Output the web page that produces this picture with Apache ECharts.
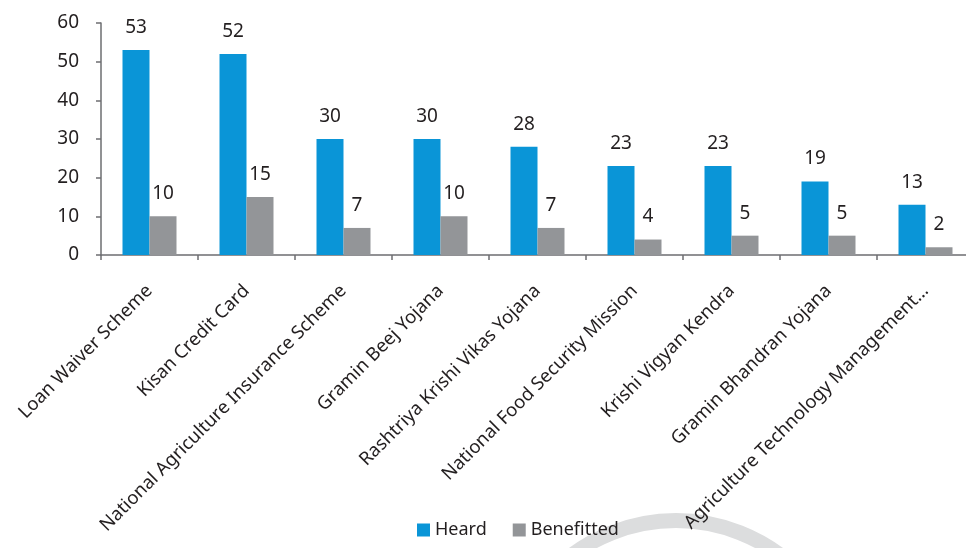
<!DOCTYPE html>
<html>
<head>
<meta charset="utf-8">
<script src="https://cdn.jsdelivr.net/npm/echarts@6/dist/echarts.min.js"></script>
<style>
  html, body { margin: 0; padding: 0; background: #ffffff; overflow: hidden; }
  /* the plot runs slightly past the right edge of the 966px view */
  #chart { width: 974px; height: 548px; }
</style>
</head>
<body>
<div id="chart"></div>
<script>
// Government schemes: how many respondents heard of each, and how many benefitted
const schemes = [
  'Loan Waiver Scheme',
  'Kisan Credit Card',
  'National Agriculture Insurance Scheme',
  'Gramin Beej Yojana',
  'Rashtriya Krishi Vikas Yojana',
  'National Food Security Mission',
  'Krishi Vigyan Kendra',
  'Gramin Bhandran Yojana',
  'Agriculture Technology Management…'
];
const heard = [53, 52, 30, 30, 28, 23, 23, 19, 13];
const benefitted = [10, 15, 7, 10, 7, 4, 5, 5, 2];
const yTicks = { min: 0, max: 60, interval: 10 };

const FONT = '"Noto Sans", "Open Sans", sans-serif';
const TEXT = '#231f20';
const AXIS = '#6d6e71';

const chart = echarts.init(document.getElementById('chart'), null, { renderer: 'canvas' });

const valueLabel = {
  show: true,
  position: 'top',
  distance: 13,
  color: TEXT,
  fontSize: 19,
  fontFamily: FONT
};

chart.setOption({
  animation: false,
  backgroundColor: '#ffffff',
  textStyle: { fontFamily: FONT, color: TEXT },
  grid: { left: 101, right: 0, top: 23, bottom: 293, containLabel: false },
  legend: {
    bottom: 4,
    left: 412,
    itemWidth: 13,
    itemHeight: 13,
    itemGap: 26,
    icon: 'rect',
    textStyle: { fontSize: 18, color: TEXT, fontFamily: FONT },
    data: ['Heard', 'Benefitted']
  },
  xAxis: {
    type: 'category',
    data: schemes,
    axisLine: { show: true, lineStyle: { color: AXIS, width: 1.5 } },
    axisTick: { show: true, length: 5, alignWithLabel: false, lineStyle: { color: AXIS, width: 1.5 } },
    axisLabel: {
      interval: 0,
      rotate: 45,
      margin: 33,
      fontSize: 18.5,
      color: TEXT,
      fontFamily: FONT
    }
  },
  yAxis: {
    type: 'value',
    min: yTicks.min,
    max: yTicks.max,
    interval: yTicks.interval,
    splitLine: { show: false },
    axisLine: { show: true, lineStyle: { color: AXIS, width: 1.5 } },
    axisTick: { show: true, length: 5, lineStyle: { color: AXIS, width: 1.5 } },
    axisLabel: { fontSize: 19, color: TEXT, margin: 22, fontFamily: FONT }
  },
  series: [
    {
      name: 'Heard',
      type: 'bar',
      data: heard,
      barWidth: 27,
      barGap: '0%',
      itemStyle: { color: '#0a95d7' },
      label: valueLabel
    },
    {
      name: 'Benefitted',
      type: 'bar',
      data: benefitted,
      barWidth: 27,
      barGap: '0%',
      itemStyle: { color: '#939598' },
      label: valueLabel
    }
  ],
  graphic: [
    {
      type: 'circle',
      z: -10,
      silent: true,
      shape: { cx: 676, cy: 694, r: 173.5 },
      style: { fill: 'none', stroke: '#dcddde', lineWidth: 15 }
    }
  ]
});
</script>
</body>
</html>
